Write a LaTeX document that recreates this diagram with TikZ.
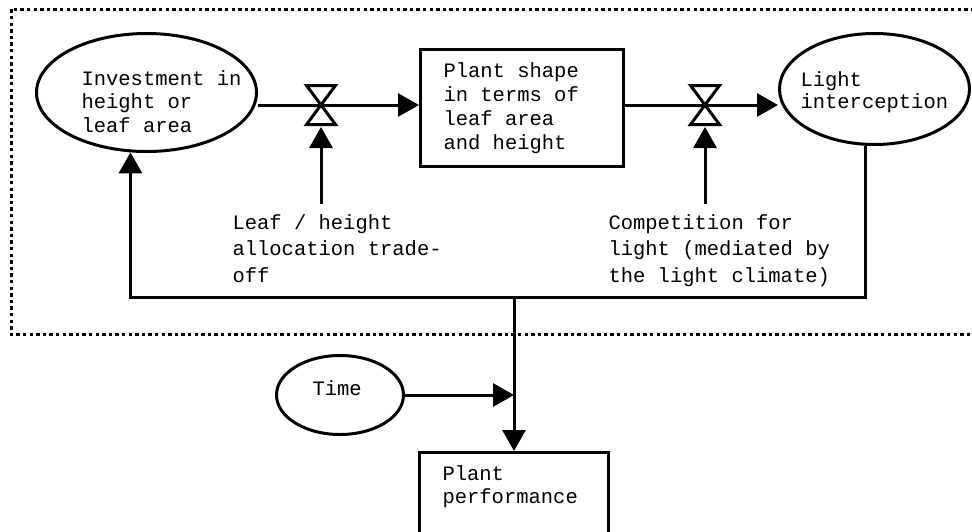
\documentclass[tikz,border=0pt]{standalone}
\usepackage{fontspec}
\setmonofont{Liberation Mono}
\usetikzlibrary{arrows.meta,shapes.geometric,calc}
\begin{document}
\begin{tikzpicture}[x=1pt,y=-1pt,line width=3pt,
  ell/.style={draw,ellipse,inner sep=0pt,minimum width=#1},
  rbox/.style={draw,rectangle,inner sep=0pt,minimum width=#1},
  lbl/.style={font=\ttfamily\fontsize{20.5}{#1}\selectfont,align=left,anchor=base west,inner sep=0pt},
  lbl/.default=23.5,
  flow/.style={-{Triangle[length=21pt,width=23pt]}},
  valveshape/.style={draw,fill=white,line width=3pt,line join=miter},
  border/.style={line width=3pt,dash pattern=on 3.4pt off 3.2pt}]
\path[use as bounding box,clip] (0,0) rectangle (972,531);
% dotted system boundary
\draw[border] (990,334) -- (11,334) -- (11,9) -- (990,9);
% shapes
\node[ell=220pt,minimum height=118pt] (e1) at (146.5,92.5) {};
\node[rbox=203pt,minimum height=117pt] (b1) at (522,108) {};
\node[ell=190pt,minimum height=111pt] (e2) at (874.5,89) {};
\node[ell=127pt,minimum height=79pt] (tm) at (340,395) {};
\node[rbox=189pt,minimum height=108pt] (pp) at (514,506.5) {};
% texts (anchored at the baseline of the last line)
\node[lbl] (te1) at (80,132) {Investment in\\height or\\leaf area};
\node[lbl=23.7] (tb1) at (442,149) {Plant shape\\in terms of\\leaf area\\and height};
\node[lbl=22] (te2) at (799,108) {Light\\interception};
\node[lbl=26.5] (tl1) at (231,282) {Leaf / height\\allocation trade-\\off};
\node[lbl=26.5] (tl2) at (607,282) {Competition for\\light (mediated by\\the light climate)};
\node[lbl] (ttm) at (311,395) {Time};
\node[lbl=23] (tpp) at (441,503) {Plant\\performance};
% valves and junction
\coordinate (v1) at (321,105);
\coordinate (v2) at (705,105);
\coordinate (v1b) at (321,127);
\coordinate (v2b) at (705,127);
\coordinate (fb) at (514,297);
% flows
\draw[flow] (e1.east |- v1) -- (v1 -| b1.west);
\draw[flow] (b1.east |- v2) -- (v2 -| e2.west);
\draw[valveshape] ($(v1)+(-14.5,-19.5)$) -- ++(29,0) -- ($(v1)+(-14.5,19.5)$) -- ++(29,0) -- cycle;
\draw[valveshape] ($(v2)+(-14.5,-19.5)$) -- ++(29,0) -- ($(v2)+(-14.5,19.5)$) -- ++(29,0) -- cycle;
\draw[flow] (v1b |- 0,204) -- (v1b);
\draw[flow] (v2b |- 0,204) -- (v2b);
% feedback loop
\draw[flow] (e2.261) |- (fb) -| (e1.255);
\draw[flow] (fb) -- (pp.north);
\draw[flow] (tm.east) -- (tm.east -| fb);
\end{tikzpicture}
\end{document}
